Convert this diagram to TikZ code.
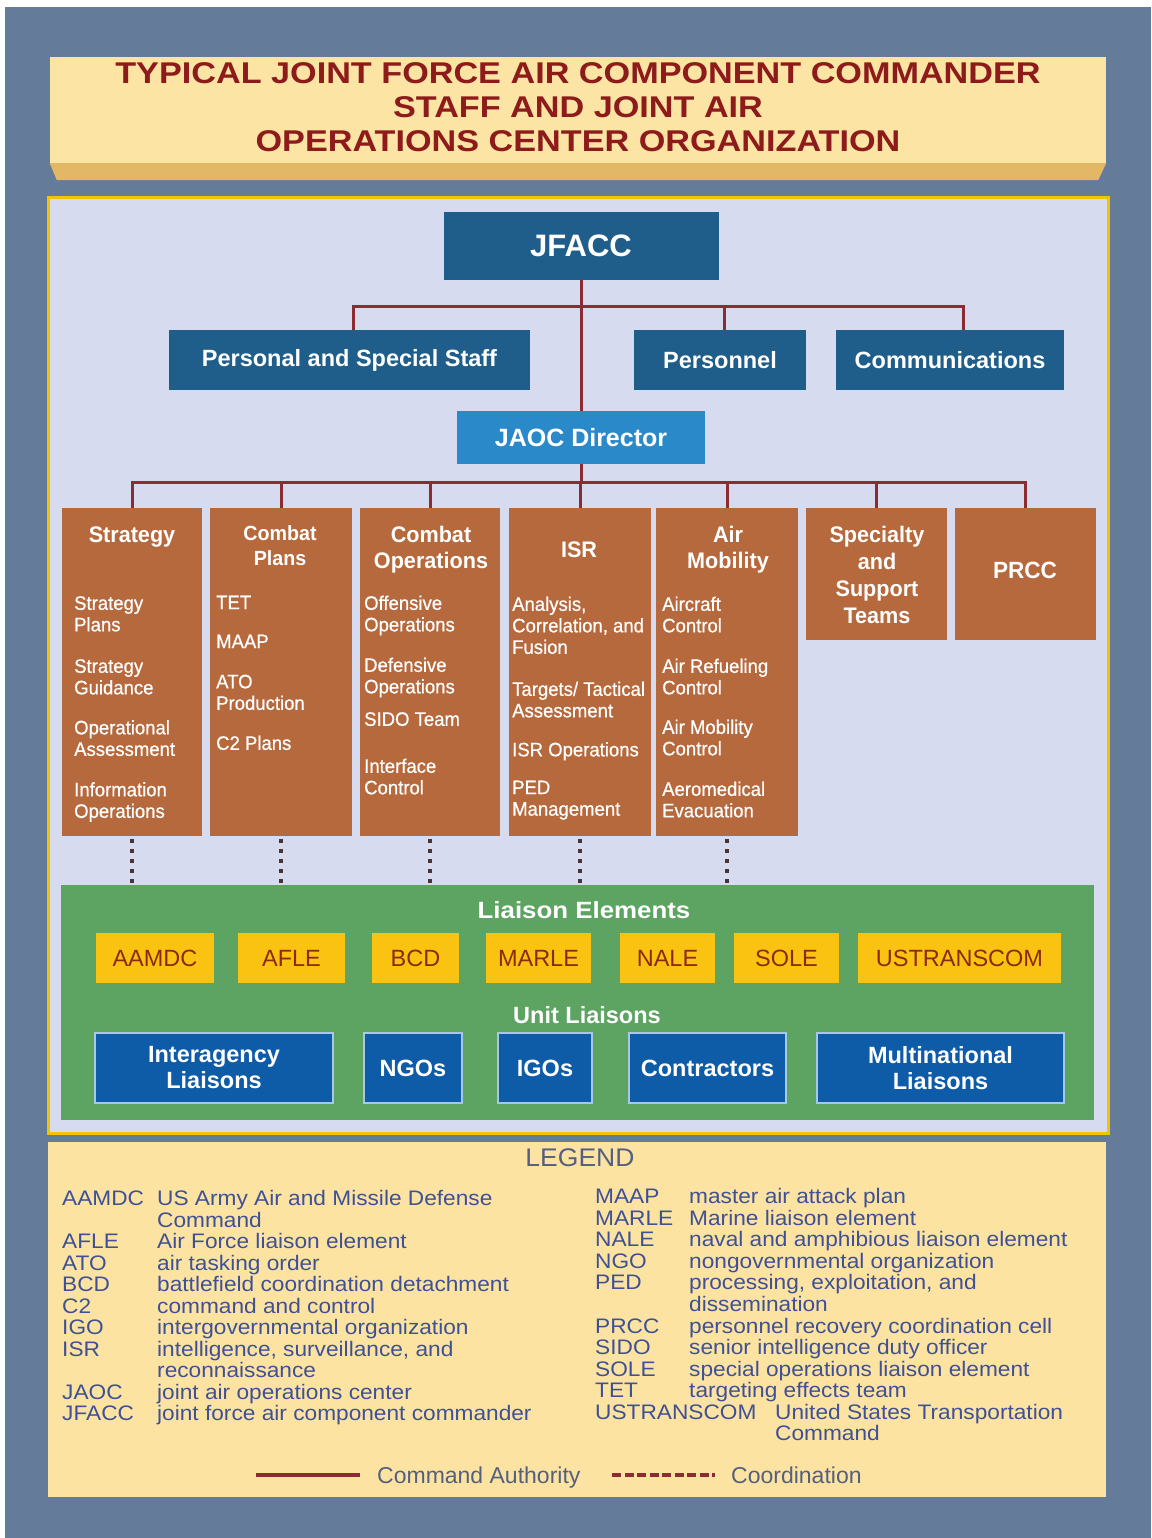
\documentclass[tikz,border=0pt]{standalone}
\usepackage{fontspec}
\setmainfont{Liberation Sans}
\usetikzlibrary{calc}
\definecolor{bgc}{HTML}{647B9A}
\definecolor{titlefill}{HTML}{FCE4A4}
\definecolor{bevelc}{HTML}{E2B867}
\definecolor{titletext}{HTML}{8E1B1B}
\definecolor{panelfill}{HTML}{D7DBF0}
\definecolor{goldc}{HTML}{F3C300}
\definecolor{navyc}{HTML}{1F5E8A}
\definecolor{jaocc}{HTML}{2A89C9}
\definecolor{brownc}{HTML}{B6693C}
\definecolor{cmdc}{HTML}{8B2B33}
\definecolor{dotc}{HTML}{4B3434}
\definecolor{greenc}{HTML}{5DA462}
\definecolor{yellowc}{HTML}{FAC311}
\definecolor{yelltext}{HTML}{8A2A10}
\definecolor{blueboxc}{HTML}{0E5BA7}
\definecolor{blueedge}{HTML}{A9C8E8}
\definecolor{legfill}{HTML}{FCE3A2}
\definecolor{legtext}{HTML}{3F5196}
\definecolor{leghead}{HTML}{55607F}
\begin{document}
\begin{tikzpicture}[x=1pt,y=-1pt,
  cmd/.style={draw=cmdc,line width=3pt},
  coordln/.style={draw=dotc,line width=4pt,dash pattern=on 4pt off 6pt},
  navybox/.style={fill=navyc,text=white,inner sep=0,font=\fontsize{23.5}{26}\bfseries\selectfont},
  colbox/.style={fill=brownc,inner sep=0},
  colhead/.style={text=white,align=center,inner sep=0,font=\fontsize{22.5}{26}\bfseries\addfontfeatures{FakeStretch=0.96}},
  item/.style={text=white,align=left,inner sep=0,anchor=north west,font=\fontsize{19.5}{21.5}\selectfont\addfontfeatures{FakeStretch=0.95,FakeBold=0.6}},
  yelbox/.style={fill=yellowc,text=yelltext,inner sep=0,minimum height=50pt,font=\fontsize{23.5}{26}\selectfont},
  bluebox/.style={fill=blueboxc,draw=blueedge,line width=1.2pt,text=white,align=center,inner sep=0,minimum height=70pt,font=\fontsize{23.5}{26}\bfseries\selectfont},
  legtxt/.style={text=legtext,inner sep=0,font=\fontsize{21}{21.5}\selectfont\addfontfeatures{FakeStretch=1.08}},
  greenhead/.style={text=white,inner sep=0,font=\fontsize{23.5}{26}\bfseries\addfontfeatures{FakeStretch=1.1}}
]
\useasboundingbox (0,0) rectangle (1151,1538);
\fill[white] (0,0) rectangle (1151,1538);
\fill[bgc] (5,7) rectangle (1151,1538);

% title
\node[fill=titlefill,minimum width=1056pt,minimum height=106pt,inner sep=0] (title) at (578,110) {};
\fill[bevelc] (title.south west) -- (title.south east) -- ($(title.south east)+(-8,17)$) -- ($(title.south west)+(7,17)$) -- cycle;
\node[text=titletext,align=center,inner sep=0,font=\fontsize{30}{34}\bfseries\addfontfeatures{FakeStretch=1.14}] (ttl) at (578,107)
  {TYPICAL JOINT FORCE AIR COMPONENT COMMANDER\\STAFF AND JOINT AIR\\OPERATIONS CENTER ORGANIZATION};

% main panel
\node[fill=panelfill,draw=goldc,line width=3pt,minimum width=1060pt,minimum height=935pt,inner sep=0] (panel) at (578,665.5) {};

% top level
\node[navybox,minimum width=275pt,minimum height=68pt,font=\fontsize{31}{34}\bfseries\selectfont] (jfacc) at (581,246) {JFACC};
\node[navybox,minimum width=361pt,minimum height=60pt] (pss) at (349.5,360) {Personal and Special Staff};
\node[navybox,minimum width=172pt,minimum height=60pt] (pers) at (720,360) {Personnel};
\node[navybox,minimum width=228pt,minimum height=60pt] (comm) at (950,360) {Communications};
\node[fill=jaocc,text=white,inner sep=0,minimum width=248pt,minimum height=53pt,font=\fontsize{25}{28}\bfseries\selectfont] (jaoc) at (581,437.5) {JAOC Director};

% columns
\node[colbox,minimum width=140pt,minimum height=328pt] (strat) at (132,672) {};
\node[colbox,minimum width=142pt,minimum height=328pt] (cp) at (281,672) {};
\node[colbox,minimum width=140pt,minimum height=328pt] (co) at (430,672) {};
\node[colbox,minimum width=142pt,minimum height=328pt] (isr) at (580,672) {};
\node[colbox,minimum width=142pt,minimum height=328pt] (am) at (727,672) {};
\node[colbox,minimum width=141pt,minimum height=132pt] (sst) at (876.5,574) {};
\node[colbox,minimum width=141pt,minimum height=132pt] (prcc) at (1025.5,574) {};

% command lines
\coordinate (topbar) at (581,306);
\coordinate (colbar) at (581,482);
\draw[cmd] (jfacc.south) -- (jaoc.north);
\draw[cmd] ([xshift=3.5pt]pss.north) |- (topbar) -| ([xshift=13pt]comm.north);
\draw[cmd] ([xshift=4pt]pers.north) -- ([xshift=4pt]pers.north |- topbar);
\draw[cmd] (jaoc.south) -- (colbar);
\draw[cmd] (strat.north) |- (colbar) -| (prcc.north);
\draw[cmd] (cp.north) -- (cp.north |- colbar);
\draw[cmd] (co.north) -- (co.north |- colbar);
\draw[cmd] (isr.north) -- (isr.north |- colbar);
\draw[cmd] (am.north) -- (am.north |- colbar);
\draw[cmd] (sst.north) -- (sst.north |- colbar);

% column headings
\node[colhead] (hstrat) at (132,537) {Strategy};
\node[colhead,font=\fontsize{20.5}{25}\bfseries\addfontfeatures{FakeStretch=0.96}] (hcp) at (280,546) {Combat\\Plans};
\node[colhead] (hco) at (431,550) {Combat\\Operations};
\node[colhead] (hisr) at (579,550) {ISR};
\node[colhead] (ham) at (728,550) {Air\\Mobility};
\node[colhead,font=\fontsize{22.5}{27.3}\bfseries\addfontfeatures{FakeStretch=0.96}] (hsst) at (877,575) {Specialty\\and\\Support\\Teams};
\node[colhead,font=\fontsize{23.5}{26}\bfseries\addfontfeatures{FakeStretch=0.96}] (hprcc) at (1025,570) {PRCC};

% column items
\node[item] (s1) at (74,596) {Strategy\\Plans};
\node[item] (s2) at (74,659) {Strategy\\Guidance};
\node[item] (s3) at (74,720) {Operational\\Assessment};
\node[item] (s4) at (74,782) {Information\\Operations};
\node[item] (c1) at (216,595.5) {TET};
\node[item] (c2) at (216,634.5) {MAAP};
\node[item] (c3) at (216,674.5) {ATO\\Production};
\node[item] (c4) at (216,735.5) {C2 Plans};
\node[item] (o1) at (364,595.5) {Offensive\\Operations};
\node[item] (o2) at (364,657.5) {Defensive\\Operations};
\node[item] (o3) at (364,712) {SIDO Team};
\node[item] (o4) at (364,758.5) {Interface\\Control};
\node[item] (i1) at (512,596.5) {Analysis,\\Correlation, and\\Fusion};
\node[item] (i2) at (512,681.5) {Targets/ Tactical\\Assessment};
\node[item] (i3) at (512,742) {ISR Operations};
\node[item] (i4) at (512,780.5) {PED\\Management};
\node[item] (a1) at (662,596.5) {Aircraft\\Control};
\node[item] (a2) at (662,658.5) {Air Refueling\\Control};
\node[item] (a3) at (662,719.5) {Air Mobility\\Control};
\node[item] (a4) at (662,781.5) {Aeromedical\\Evacuation};

% liaison area
\node[fill=greenc,minimum width=1033pt,minimum height=235pt,inner sep=0] (green) at (577.5,1002.5) {};
\draw[coordln] ([yshift=-3pt]strat.south) -- (strat.south |- green.north);
\draw[coordln] ([yshift=-3pt]cp.south) -- (cp.south |- green.north);
\draw[coordln] ([yshift=-3pt]co.south) -- (co.south |- green.north);
\draw[coordln] ([yshift=-3pt]isr.south) -- (isr.south |- green.north);
\draw[coordln] ([yshift=-3pt]am.south) -- (am.south |- green.north);

\node[greenhead] (le) at (584,910) {Liaison Elements};
\node[yelbox,minimum width=118pt] (aamdc) at (155,958) {AAMDC};
\node[yelbox,minimum width=107pt] (afle) at (291.5,958) {AFLE};
\node[yelbox,minimum width=87pt] (bcd) at (415.5,958) {BCD};
\node[yelbox,minimum width=105pt] (marle) at (538.5,958) {MARLE};
\node[yelbox,minimum width=95pt] (nale) at (667.5,958) {NALE};
\node[yelbox,minimum width=105pt] (sole) at (786.5,958) {SOLE};
\node[yelbox,minimum width=203pt] (ustc) at (959.5,958) {USTRANSCOM};

\node[greenhead,font=\fontsize{23.5}{26}\bfseries\selectfont] (ul) at (587,1015) {Unit Liaisons};
\node[bluebox,minimum width=238pt] (inter) at (214,1068) {Interagency\\Liaisons};
\node[bluebox,minimum width=98pt] (ngo) at (413,1068) {NGOs};
\node[bluebox,minimum width=94pt] (igo) at (545,1068) {IGOs};
\node[bluebox,minimum width=157pt] (contr) at (707.5,1068) {Contractors};
\node[bluebox,minimum width=247pt] (multi) at (940.5,1068) {Multinational\\Liaisons};

% legend
\node[fill=legfill,minimum width=1058pt,minimum height=355pt,inner sep=0] (legend) at (577,1319.5) {};
\node[text=leghead,inner sep=0,font=\fontsize{25.5}{28}\selectfont\addfontfeatures{FakeStretch=1.04}] (lghead) at (580,1158) {LEGEND};

\foreach \ab/\de [count=\i] in {AAMDC/US Army Air and Missile Defense, /Command, AFLE/Air Force liaison element, ATO/air tasking order, BCD/battlefield coordination detachment, C2/command and control, IGO/intergovernmental organization, ISR/{intelligence, surveillance, and}, /reconnaissance, JAOC/joint air operations center, JFACC/joint force air component commander}{
  \pgfmathsetmacro\yy{1205.5+(\i-1)*21.5}
  \node[legtxt,anchor=base west] (la\i) at (62,\yy) {\ab};
  \node[legtxt,anchor=base west] (ld\i) at (157,\yy) {\de};
}
\foreach \ab/\de [count=\i] in {MAAP/master air attack plan, MARLE/Marine liaison element, NALE/naval and amphibious liaison element, NGO/nongovernmental organization, PED/{processing, exploitation, and}, /dissemination, PRCC/personnel recovery coordination cell, SIDO/senior intelligence duty officer, SOLE/special operations liaison element, TET/targeting effects team}{
  \pgfmathsetmacro\yy{1203.5+(\i-1)*21.6}
  \node[legtxt,anchor=base west] (ra\i) at (595,\yy) {\ab};
  \node[legtxt,anchor=base west] (rd\i) at (689,\yy) {\de};
}
\node[legtxt,anchor=base west] (ra11) at (595,1419.5) {USTRANSCOM};
\node[legtxt,anchor=base west] (rd11) at (775,1419.5) {United States Transportation};
\node[legtxt,anchor=base west] (rd12) at (775,1440.5) {Command};

% line legend
\coordinate (ca1) at (256,1475);
\coordinate (ca2) at (360,1475);
\coordinate (co1) at (612,1475);
\coordinate (co2) at (715,1475);
\draw[draw=cmdc,line width=4pt] (ca1) -- (ca2);
\draw[draw=cmdc,line width=4pt,dash pattern=on 9pt off 3.5pt] (co1) -- (co2);
\node[text=leghead,anchor=base west,inner sep=0,font=\fontsize{23}{26}\selectfont] (catxt) at (377,1483) {Command Authority};
\node[text=leghead,anchor=base west,inner sep=0,font=\fontsize{23}{26}\selectfont] (cotxt) at (731,1483) {Coordination};
\end{tikzpicture}
\end{document}
